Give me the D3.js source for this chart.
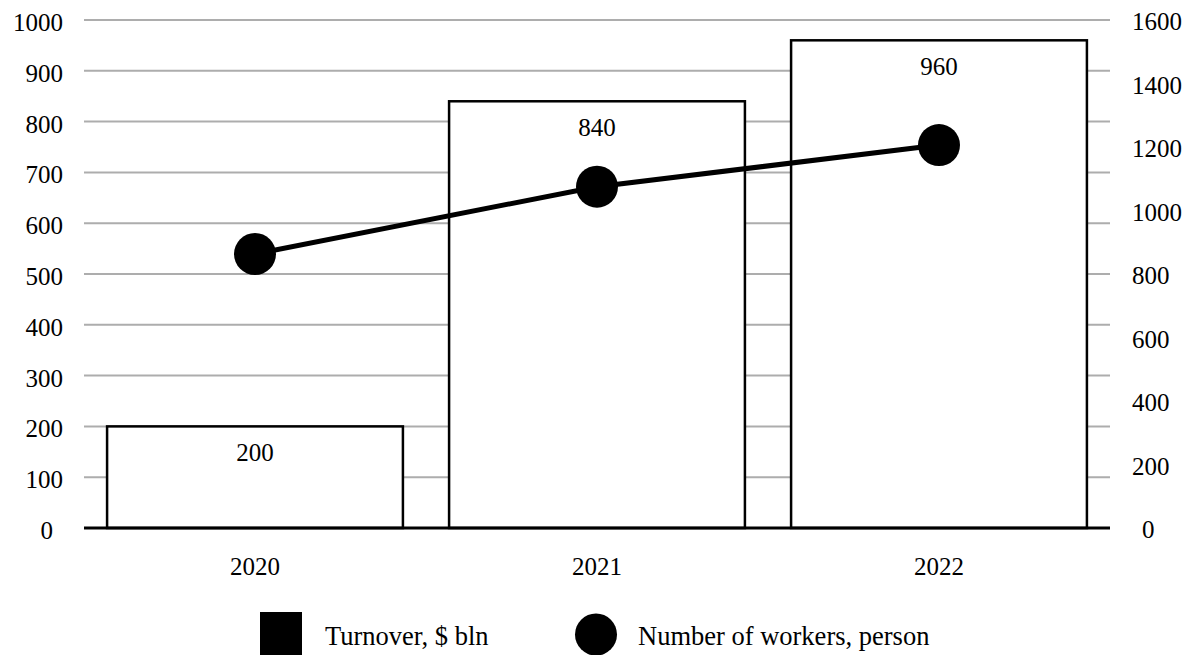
<!DOCTYPE html>
<html>
<head>
<meta charset="utf-8">
<script src="https://cdn.jsdelivr.net/npm/d3@7"></script>
<style>
  html, body { margin: 0; padding: 0; background: #fff; }
</style>
</head>
<body>
<svg id="chart" width="1195" height="655" font-family="'Liberation Serif', 'Times New Roman', serif"></svg>
<script>
// Yearly turnover (bars, left axis) and headcount (line, right axis)
const years = ["2020", "2021", "2022"];
const turnover = [200, 840, 960];
const workers = [863, 1075, 1206];
const leftTicks = [0, 100, 200, 300, 400, 500, 600, 700, 800, 900, 1000];
const rightTicks = [0, 200, 400, 600, 800, 1000, 1200, 1400, 1600];
const legendLabels = ["Turnover, $ bln", "Number of workers, person"];

const svg = d3.select("#chart");
const plot = { left: 84, right: 1110, top: 20, bottom: 528 };
const fontSize = 25;
const legendFontSize = 26.5;

const x = d3.scaleBand().domain(years).range([plot.left, plot.right]).paddingInner(0.135).paddingOuter(0.0675);
const yL = d3.scaleLinear().domain([0, 1000]).range([plot.bottom, plot.top]);
const yR = d3.scaleLinear().domain([0, 1600]).range([plot.bottom, plot.top]);

// Horizontal gridlines at the left-axis ticks
svg.append("g").selectAll("line").data(leftTicks.filter(d => d > 0)).join("line")
  .attr("x1", plot.left).attr("x2", plot.right)
  .attr("y1", d => yL(d)).attr("y2", d => yL(d))
  .attr("stroke", "#adadad").attr("stroke-width", 2);

// Left axis labels (the zero label sits a little inward)
svg.append("g").selectAll("text").data(leftTicks).join("text")
  .attr("x", d => d === 0 ? 53 : 63).attr("y", d => yL(d) + 11)
  .attr("text-anchor", "end").attr("font-size", fontSize)
  .text(d => d);

// Right axis labels
svg.append("g").selectAll("text").data(rightTicks).join("text")
  .attr("x", d => d === 0 ? 1142 : 1132).attr("y", d => yR(d) + 10)
  .attr("text-anchor", "start").attr("font-size", fontSize)
  .text(d => d);

// Bars
svg.append("g").selectAll("rect").data(years).join("rect")
  .attr("x", d => x(d)).attr("width", x.bandwidth())
  .attr("y", (d, i) => yL(turnover[i]))
  .attr("height", (d, i) => plot.bottom - yL(turnover[i]))
  .attr("fill", "#fff").attr("stroke", "#000").attr("stroke-width", 2.5);

// Bar value labels
svg.append("g").selectAll("text").data(years).join("text")
  .attr("x", d => x(d) + x.bandwidth() / 2)
  .attr("y", (d, i) => yL(turnover[i]) + 35)
  .attr("text-anchor", "middle").attr("font-size", fontSize)
  .text((d, i) => turnover[i]);

// Baseline
svg.append("line")
  .attr("x1", plot.left).attr("x2", plot.right)
  .attr("y1", plot.bottom).attr("y2", plot.bottom)
  .attr("stroke", "#000").attr("stroke-width", 3);

// Category labels
svg.append("g").selectAll("text").data(years).join("text")
  .attr("x", d => x(d) + x.bandwidth() / 2).attr("y", 575)
  .attr("text-anchor", "middle").attr("font-size", fontSize)
  .text(d => d);

// Workers line with markers
const pts = years.map((d, i) => [x(d) + x.bandwidth() / 2, yR(workers[i])]);
svg.append("path")
  .attr("d", d3.line()(pts))
  .attr("fill", "none").attr("stroke", "#000").attr("stroke-width", 5);
svg.append("g").selectAll("circle").data(pts).join("circle")
  .attr("cx", d => d[0]).attr("cy", d => d[1]).attr("r", 21)
  .attr("fill", "#000");

// Legend
const lg = svg.append("g");
lg.append("rect").attr("x", 260).attr("y", 612).attr("width", 42).attr("height", 46).attr("fill", "#000");
lg.append("text").attr("x", 325).attr("y", 645).attr("font-size", legendFontSize).text(legendLabels[0]);
lg.append("circle").attr("cx", 596).attr("cy", 634.5).attr("r", 21).attr("fill", "#000");
lg.append("text").attr("x", 638).attr("y", 645).attr("font-size", legendFontSize).text(legendLabels[1]);
</script>
</body>
</html>
